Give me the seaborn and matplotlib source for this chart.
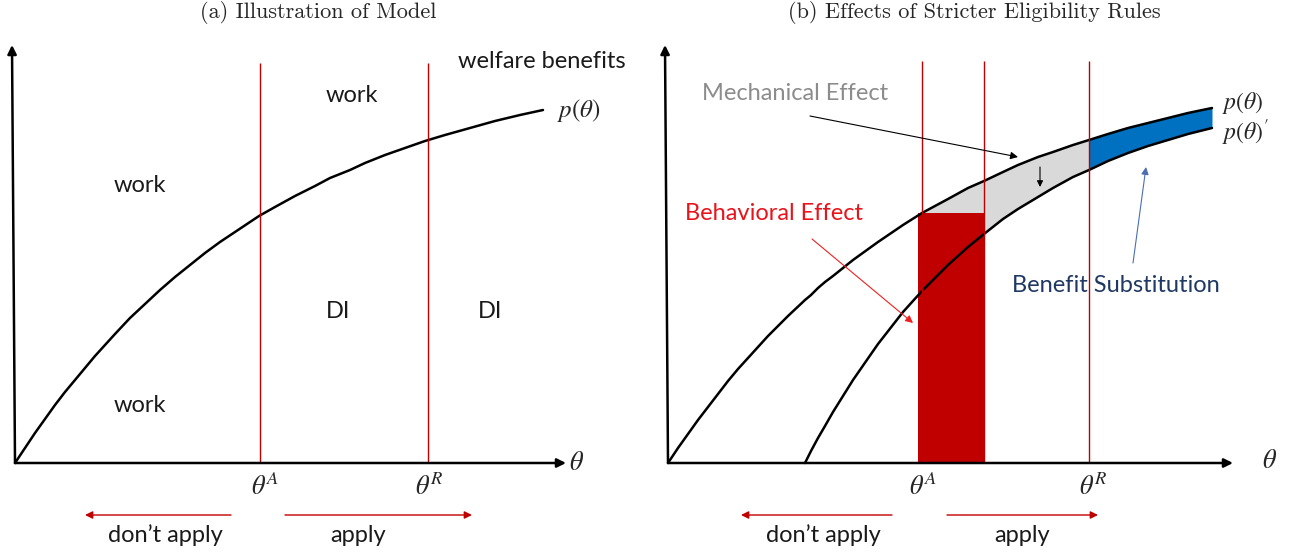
import numpy as np
import matplotlib
matplotlib.use("Agg")
import matplotlib.pyplot as plt
import seaborn as sns

# Panel (a): p(theta) (theta and p in pixels from the origin)
theta_a = [0, 10, 20, 30, 40, 50, 60, 70, 80, 90, 100, 115, 130, 145, 160, 175, 190, 205, 220,
           244, 260, 280, 300, 315, 335, 350, 370, 390, 410, 430, 455, 480, 505, 528]
p_a = [0, 15, 30, 44, 58, 71, 83, 95, 107, 118, 129, 145, 159, 173, 186, 198, 210, 221, 231,
       247, 256, 267, 277, 285, 293, 300, 308, 315, 322, 328, 335, 342, 348, 353]
thresholds_a = [245, 413]          # theta^A, theta^R

# Panel (b): p(theta) and stricter p(theta)'
theta_b = [0, 10, 20, 30, 40, 50, 60, 70, 80, 90, 100, 110, 120, 137, 143, 150, 157, 165, 185,
           210, 235, 254, 280, 300, 316, 335, 350, 370, 385, 405, 421, 440, 460, 480, 500, 520, 544]
p_b = [0, 15, 29, 43, 56, 69, 82, 94, 105, 116, 127, 137, 147, 163, 168, 175, 181, 187, 203,
       221, 238, 250, 264, 275, 282, 291, 298, 306, 311, 318, 323, 329, 335, 340, 345, 350, 355]
theta_b2 = [137, 143, 150, 157, 165, 185, 210, 235, 254, 280, 300, 316, 335, 350, 370, 385,
            405, 421, 440, 460, 480, 500, 520, 544]
p_b2 = [0, 12, 25, 37, 51, 83, 119, 151, 172, 198, 216, 229, 244, 254, 266, 275,
        286, 293, 302, 310, 317, 323, 329, 335]
thresholds_b = [254, 316, 421]     # theta^A, behavioural shift, theta^R
bar_height = 250

sns.set_style("white")
plt.rcParams['font.family'] = ['Lato', 'DejaVu Sans']
plt.rcParams['mathtext.fontset'] = 'stix'

fig = plt.figure(figsize=(12.98, 5.56), dpi=100)
ax1 = fig.add_axes([0, 0, 0.5, 1])
ax2 = fig.add_axes([0.5, 0, 0.5, 1])

red = '#c00000'
txt = '#1a1a1a'

def axis_arrows(ax, xmax, ymax):
    kw = dict(arrowstyle='-|>', color='black', lw=1.8, mutation_scale=13, shrinkA=0, shrinkB=0)
    ax.annotate('', xy=(xmax, 0), xytext=(0, 0), arrowprops=kw)
    ax.annotate('', xy=(-3, ymax), xytext=(0, 0), arrowprops=kw)

def apply_arrows(ax, left, mid1, mid2, right):
    kw = dict(arrowstyle='-|>', color=red, lw=1.0, mutation_scale=11, shrinkA=0, shrinkB=0)
    ax.annotate('', xy=(left, -52), xytext=(mid1, -52), arrowprops=kw)
    ax.annotate('', xy=(right, -52), xytext=(mid2, -52), arrowprops=kw)

# ---- panel (a)
ax1.set_xlim(-15, 634)
ax1.set_ylim(-93, 463)
ax1.axis('off')
sns.lineplot(x=theta_a, y=p_a, ax=ax1, color='black', lw=1.8, sort=False, estimator=None)
ax1.vlines(thresholds_a, 0, 400, color=red, lw=1.0)
axis_arrows(ax1, 551, 418)
ax1.text(303, 451, "(a) Illustration of Model", family='cmr10', fontsize=16, ha='center', va='center')
ax1.text(125, 278, "work", fontsize=17, ha='center', va='center', color=txt)
ax1.text(125, 58, "work", fontsize=17, ha='center', va='center', color=txt)
ax1.text(337, 368, "work", fontsize=17, ha='center', va='center', color=txt)
ax1.text(323, 151, "DI", fontsize=17, ha='center', va='center', color=txt)
ax1.text(475, 151, "DI", fontsize=17, ha='center', va='center', color=txt)
ax1.text(527, 401, "welfare benefits", fontsize=17, ha='center', va='center', color=txt)
ax1.text(542, 353, r"$p(\theta)$", fontsize=18, ha='left', va='center')
ax1.text(562, 1, r"$\theta$", fontsize=19, ha='center', va='center')
ax1.text(250, -24, r"$\theta^A$", fontsize=19, ha='center', va='center')
ax1.text(414, -24, r"$\theta^R$", fontsize=19, ha='center', va='center')
apply_arrows(ax1, 70, 216, 270, 457)
ax1.text(150, -72, "don\u2019t apply", fontsize=17, ha='center', va='center', color=txt)
ax1.text(343, -72, "apply", fontsize=17, ha='center', va='center', color=txt)

# ---- panel (b)
ax2.set_xlim(-19, 630)
ax2.set_ylim(-93, 463)
ax2.axis('off')
tb = np.array(theta_b)
pb = np.array(p_b)
tb2 = np.array(theta_b2)
pb2 = np.array(p_b2)
upper_on_b2 = pb[np.isin(tb, tb2)]
gray = (tb2 >= thresholds_b[0]) & (tb2 <= thresholds_b[2])
blue = tb2 >= thresholds_b[2]
ax2.fill_between(tb2[gray], pb2[gray], upper_on_b2[gray], color='#d9d9d9', lw=0)
ax2.fill_between(tb2[blue], pb2[blue], upper_on_b2[blue], color='#0070c0', lw=0)
ax2.bar(thresholds_b[0] - 4, bar_height, width=thresholds_b[1] - thresholds_b[0] + 4,
        align='edge', color=red, lw=0)
sns.lineplot(x=theta_b, y=p_b, ax=ax2, color='black', lw=1.8, sort=False, estimator=None)
sns.lineplot(x=theta_b2, y=p_b2, ax=ax2, color='black', lw=1.8, sort=False, estimator=None)
ax2.vlines(thresholds_b, 0, 402, color=red, lw=1.0)
axis_arrows(ax2, 565, 418)
ax2.text(306, 451, "(b) Effects of Stricter Eligibility Rules", family='cmr10', fontsize=16,
         ha='center', va='center')
ax2.text(127, 370, "Mechanical Effect", fontsize=17, ha='center', va='center', color='#8c8c8c')
ax2.annotate('', xy=(350, 306), xytext=(142, 347),
             arrowprops=dict(arrowstyle='-|>', color='black', lw=0.8, mutation_scale=11, shrinkA=0, shrinkB=0))
ax2.annotate('', xy=(372, 276), xytext=(372, 296),
             arrowprops=dict(arrowstyle='-|>', color='black', lw=0.8, mutation_scale=9, shrinkA=0, shrinkB=0))
ax2.text(106, 250, "Behavioral Effect", fontsize=17, ha='center', va='center', color='#e8141c')
ax2.annotate('', xy=(245, 140), xytext=(144, 224),
             arrowprops=dict(arrowstyle='-|>', color='#f02020', lw=0.8, mutation_scale=11, shrinkA=0, shrinkB=0))
ax2.text(448, 177, "Benefit Substitution", fontsize=17, ha='center', va='center', color='#203864')
ax2.annotate('', xy=(478, 296), xytext=(465, 200),
             arrowprops=dict(arrowstyle='-|>', color='#4a70b0', lw=0.8, mutation_scale=11, shrinkA=0, shrinkB=0))
ax2.text(554, 360, r"$p(\theta)$", fontsize=17, ha='left', va='center')
ax2.text(554, 330, r"$p(\theta)'$", fontsize=17, ha='left', va='center')
ax2.text(602, 3, r"$\theta$", fontsize=19, ha='center', va='center')
ax2.text(255, -24, r"$\theta^A$", fontsize=19, ha='center', va='center')
ax2.text(425, -24, r"$\theta^R$", fontsize=19, ha='center', va='center')
apply_arrows(ax2, 73, 224, 279, 430)
ax2.text(155, -72, "don\u2019t apply", fontsize=17, ha='center', va='center', color=txt)
ax2.text(354, -72, "apply", fontsize=17, ha='center', va='center', color=txt)

fig.savefig("out.png", dpi=100)
